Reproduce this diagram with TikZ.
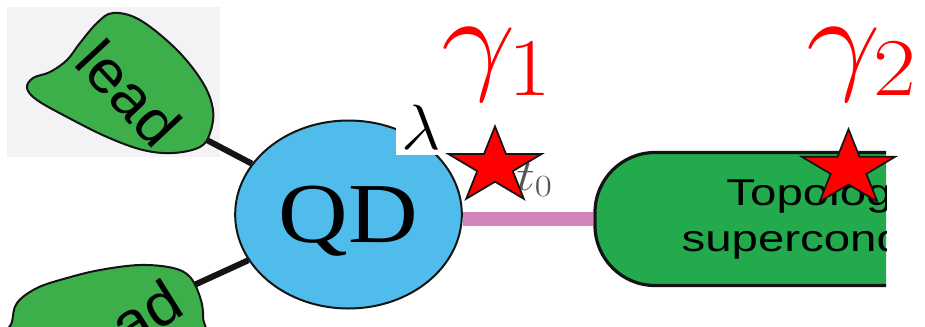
\RequirePackage{fix-cm}
\documentclass[tikz,border=0pt]{standalone}
\usepackage{fontspec}
\usepackage{graphicx}
\usetikzlibrary{shapes.geometric}
\newfontfamily\sansf{Liberation Sans}
\newfontfamily\seriff{Liberation Serif}
\definecolor{qdblue}{RGB}{80,188,235}
\definecolor{leadgreen}{RGB}{60,174,74}
\definecolor{boxgreen}{RGB}{34,170,76}
\definecolor{pinkline}{RGB}{208,132,184}
\definecolor{outl}{RGB}{20,20,20}
\definecolor{tgray}{RGB}{85,85,85}
\definecolor{bgfaint}{RGB}{243,243,246}
\tikzset{
  qdnode/.style={ellipse, draw=outl, line width=1.5pt, fill=qdblue, inner sep=0pt,
    minimum width=170pt, minimum height=141pt, text depth=0pt,
    font=\seriff\fontsize{64}{66}\selectfont},
  tscnode/.style={rectangle, rounded corners=45pt, draw=outl, line width=2.4pt, fill=boxgreen,
    minimum width=375pt, minimum height=99.75pt, align=center, inner sep=0pt,
    font=\sansf\fontsize{28}{34.5}\selectfont},
  leadshape/.style={draw=outl, line width=1.5pt, fill=leadgreen},
  leadtext/.style={font=\sansf\fontsize{45}{47}\selectfont, inner sep=0pt},
  blackconn/.style={line width=4.5pt, draw=outl},
  pinkconn/.style={line width=11pt, draw=pinkline},
  redstar/.style={draw=outl, line width=1.3pt, fill=red, line join=miter},
  gammalab/.style={text=red, inner sep=0pt, anchor=base west, font=\fontsize{88}{90}\selectfont},
  pics/mstar/.style={code={
    \draw[redstar] (0,-40) -- (11,-12.4) -- (46.6,-12.4) -- (17.8,4.7) -- (28.8,32.4)
      -- (0,15.3) -- (-28.8,32.4) -- (-17.8,4.7) -- (-46.6,-12.4) -- (-11,-12.4) -- cycle;}}
}
\begin{document}
\begin{tikzpicture}[x=0.75pt, y=-0.75pt]
\useasboundingbox (0,0) rectangle (925,326);
\clip (0,0) rectangle (925,326);
\fill[white] (0,0) rectangle (925,326);
% faint background behind top lead
\fill[bgfaint] (7,7) rectangle (220,157);

% main nodes
\node[qdnode] (qd) at (348.5,214.5) {\scalebox{1.13}[1]{QD}};
\begin{scope}
  \clip (0,0) rectangle (886,326);
  \node[tscnode] (tsc) at (845,219) {\scalebox{1.27}[1]{Topological}\\\scalebox{1.27}[1]{superconductor}};
\end{scope}

% connectors
\coordinate (tlend) at (203,138);
\coordinate (blend) at (192,286);
\draw[blackconn] (tlend) -- (qd);
\draw[blackconn] (blend) -- (qd);
\draw[pinkconn] (tsc.west) -- (tsc.west -| qd.east);

% leads
\draw[leadshape] plot[smooth cycle, tension=0.6] coordinates {
  (113,13) (140,20) (177,50) (203,83) (213,110) (210,133) (200,147) (173,153)
  (143,150) (107,137) (67,117) (37,100) (27,88) (33,78) (50,72) (67,60) (80,43) (97,23)};
\node[leadtext, rotate=-47] (tlead) at (129,93) {\scalebox{1.05}[1]{lead}};
\draw[leadshape] plot[smooth cycle, tension=0.6] coordinates {
  (8,345) (12,322) (17,303) (37,288) (67,278) (100,270) (140,265) (173,268)
  (190,277) (200,297) (203,317) (198,345) (100,360)};
\node[leadtext, rotate=32] (blead) at (125,326) {\scalebox{1.05}[1]{lead}};

% labels
\node[text=tgray, inner sep=0pt, anchor=base west, font=\fontsize{33}{35}\selectfont] (t0) at (516,190) {\scalebox{1.2}[1]{$t_0$}};
\node[fill=white, inner sep=0pt, minimum width=38pt, minimum height=41pt,
  font=\fontsize{48}{50}\selectfont] (lam) at (421.5,127.5) {\scalebox{1.08}[1]{$\lambda$}};

% Majorana stars
\pic at (495,166.4) {mstar};
\pic at (848.5,169.2) {mstar};

\node[gammalab] (g1) at (441,78) {\scalebox{1.13}[1]{$\gamma_1$}};
\node[gammalab] (g2) at (806,78) {\scalebox{1.13}[1]{$\gamma_2$}};
\end{tikzpicture}
\end{document}
